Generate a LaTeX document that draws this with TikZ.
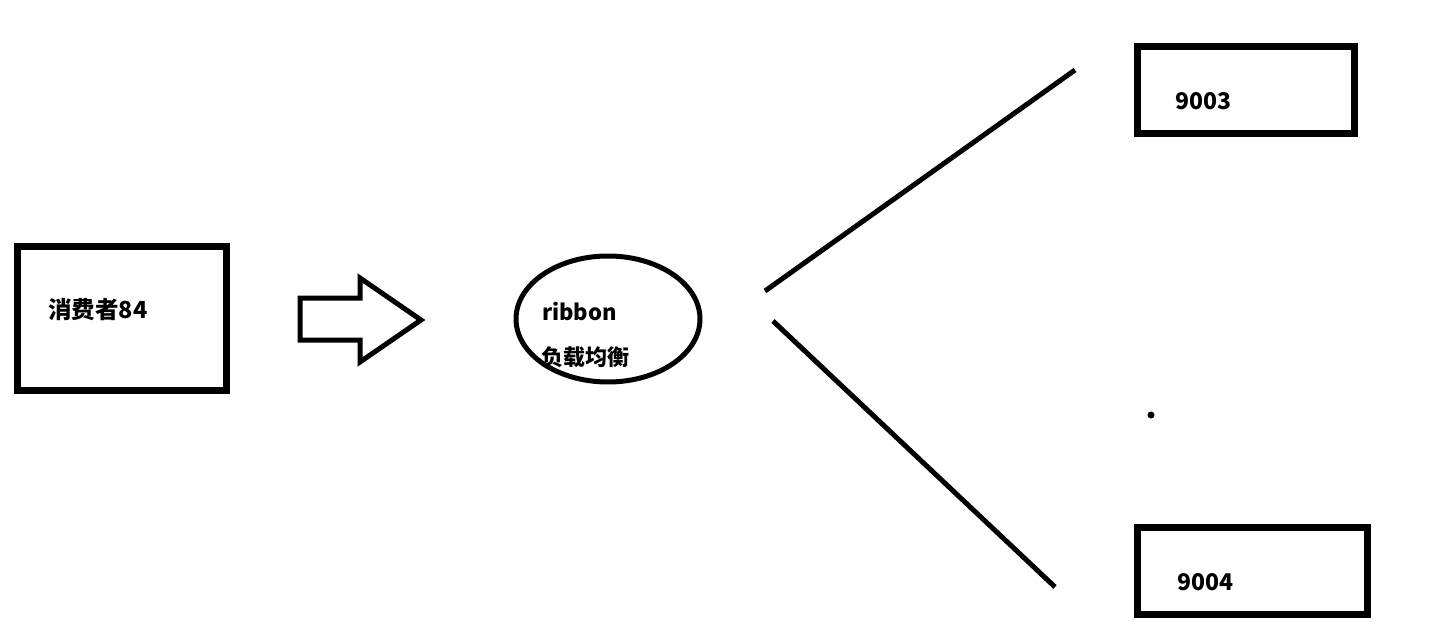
\documentclass[tikz,border=0pt]{standalone}
\usepackage{fontspec}
\setmainfont{Noto Sans CJK SC}
\usetikzlibrary{shapes.geometric}
\begin{document}
\begin{tikzpicture}[x=1pt,y=-1pt,
  boxframe/.style={draw=black,line width=7pt,line join=miter},
  lbl/.style={font=\bfseries\fontsize{22}{26}\selectfont,anchor=base west,inner sep=0pt},
  biglbl/.style={font=\bfseries\fontsize{23.5}{28}\selectfont,anchor=base west,inner sep=0pt},
  numlbl/.style={font=\bfseries\fontsize{23}{27}\selectfont,anchor=base west,inner sep=0pt},
  stroke/.style={draw=black,line width=5pt}]
\useasboundingbox[fill=white] (0,0) rectangle (1449,623);
% consumer box
\draw[boxframe] (17,246) rectangle (226,390);
\node[biglbl] (consumer) at (48,318) {消费者84};
% block arrow
\draw[stroke,line join=miter] (300,298) -- (360,298) -- (360,278) -- (421,320) -- (360,362) -- (360,340) -- (300,340) -- cycle;
% ellipse
\node[ellipse,stroke,minimum width=184pt,minimum height=126pt,inner sep=0pt] (lb) at (608,319) {};
\node[lbl] (rib) at (542,320) {ribbon};
\node[lbl] (lbtext) at (541,365) {负载均衡};
% server boxes
\draw[boxframe] (1137,47) rectangle (1354,134);
\node[numlbl] (s1) at (1175,110) {9003};
\draw[boxframe] (1137,527) rectangle (1367,614);
\node[numlbl] (s2) at (1177,590) {9004};
% connectors
\coordinate (a1) at (765,291);
\coordinate (a2) at (1075,70);
\coordinate (b1) at (773,321);
\coordinate (b2) at (1055,587);
\draw[stroke] (a1) -- (a2);
\draw[stroke] (b1) -- (b2);
% dot
\fill (1151,415) circle (3.5pt);
\end{tikzpicture}
\end{document}
